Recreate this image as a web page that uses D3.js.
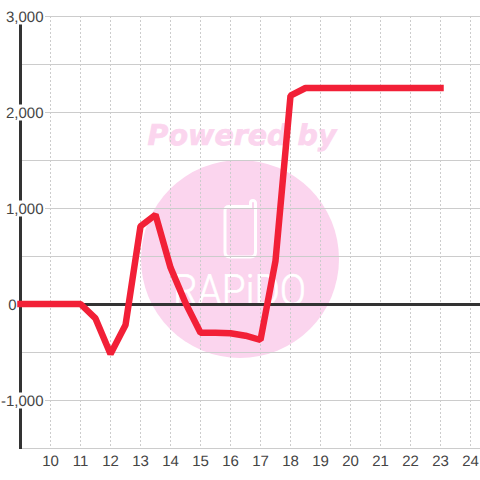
<!DOCTYPE html>
<html>
<head>
    <title>Chart</title>
    <script src="https://cdnjs.cloudflare.com/ajax/libs/d3/7.8.5/d3.min.js"></script>
    <style>
        html, body { margin: 0; padding: 0; background: #fff; }
        svg { display: block; }
        text { font-family: "Liberation Sans", sans-serif; text-rendering: geometricPrecision; }
    </style>
</head>
<body>
    <script>
    var hours = [9, 9.5, 10, 10.5, 11, 11.5, 12, 12.5, 13, 13.5, 14, 14.5, 15, 15.5, 16, 16.5, 17, 17.5, 18, 18.5, 19, 19.5, 20, 20.5, 21, 21.5, 22, 22.5, 23];
    var values = [0, 0, 0, 0, 0, -150, -520, -220, 810, 930, 380, 10, -300, -300, -305, -330, -375, 450, 2170, 2250, 2250, 2250, 2250, 2250, 2250, 2250, 2250, 2250, 2250];
    var xTicks = [10, 11, 12, 13, 14, 15, 16, 17, 18, 19, 20, 21, 22, 23, 24];
    var yLabelled = [3000, 2000, 1000, 0, -1000];
    var yGrid = [3000, 2500, 2000, 1500, 1000, 500, -500, -1000, -1500];

    var x = d3.scaleLinear().domain([9, 24]).range([20.5, 470.5]);
    var y = d3.scaleLinear().domain([3000, -1500]).range([16.5, 448.5]);
    // plain hyphen for negatives, d3 default is the long minus
    var fmt = d3.formatLocale({ decimal: ".", thousands: ",", grouping: [3], currency: ["$", ""], minus: "-" }).format(",");

    var svg = d3.select("body").append("svg")
        .attr("width", 480)
        .attr("height", 480);

    // watermark sits under everything
    var mark = svg.append("g").attr("class", "watermark");
    mark.append("circle")
        .attr("cx", 240).attr("cy", 259).attr("r", 99)
        .attr("fill", "#fbd5ee");
    mark.append("text")
        .attr("x", 242).attr("y", 145)
        .attr("text-anchor", "middle")
        .style("font-family", "DejaVu Sans")
        .style("font-weight", "bold")
        .style("font-style", "italic")
        .style("font-size", "28.5px")
        .attr("fill", "#fbd5ee")
        .attr("stroke", "#fbd5ee")
        .attr("stroke-width", 0.7)
        .text("Powered by");
    mark.append("path")
        .attr("d", "M229 206.5 H250.5 V203 a2.5 2.5 0 0 1 5 0 V252 q0 5 -5 5 H230 q-5 0 -5 -5 V210.5 q0 -4 4 -4 Z")
        .attr("fill", "none").attr("stroke", "#fff").attr("stroke-width", 3);
    mark.append("text")
        .attr("x", 173).attr("y", 305)
        .style("font-family", "Roboto")
        .style("font-weight", "300")
        .style("font-size", "43px")
        .attr("fill", "#fff")
        .attr("stroke", "#fff")
        .attr("stroke-width", 0.6)
        .attr("textLength", 133)
        .attr("lengthAdjust", "spacingAndGlyphs")
        .text("RAPiDO");

    // vertical dotted grid
    svg.append("g").selectAll("line")
        .data(xTicks)
        .enter().append("line")
        .attr("x1", function (d) { return x(d); })
        .attr("x2", function (d) { return x(d); })
        .attr("y1", 16)
        .attr("y2", 449)
        .attr("stroke", "#ccc")
        .attr("stroke-dasharray", "2,2");

    svg.append("g").selectAll("line")
        .data(yGrid)
        .enter().append("line")
        .attr("x1", 20)
        .attr("x2", 480)
        .attr("y1", function (d) { return y(d); })
        .attr("y2", function (d) { return y(d); })
        .attr("stroke", "#ccc");

    // axes
    svg.append("line")
        .attr("x1", 20).attr("x2", 480)
        .attr("y1", y(0)).attr("y2", y(0))
        .attr("stroke", "#333").attr("stroke-width", 3);
    svg.append("line")
        .attr("x1", x(9)).attr("x2", x(9))
        .attr("y1", 16).attr("y2", 449)
        .attr("stroke", "#333").attr("stroke-width", 3);

    // y labels have a white box behind them, the 0 sits left of the axis
    var yl = svg.append("g").selectAll("g")
        .data(yLabelled)
        .enter().append("g");
    yl.append("rect")
        .attr("x", function (d) { return d == 0 ? 7 : 0; })
        .attr("y", function (d) { return y(d) - 8; })
        .attr("width", function (d) { return d == 0 ? 10 : 45; })
        .attr("height", 16)
        .attr("fill", "#fff");
    yl.append("text")
        .attr("x", function (d) { return d == 0 ? 16.5 : 43.5; })
        .attr("y", function (d) { return y(d) + 5.5; })
        .attr("text-anchor", "end")
        .attr("fill", "#444")
        .style("font-size", "15px")
        .text(function (d) { return fmt(d); });

    svg.append("g").selectAll("text")
        .data(xTicks)
        .enter().append("text")
        .attr("x", function (d) { return x(d); })
        .attr("y", 466)
        .attr("text-anchor", "middle")
        .attr("fill", "#444")
        .style("font-size", "15px")
        .text(function (d) { return d; });

    var line = d3.line()
        .x(function (d, i) { return x(hours[i]); })
        .y(function (d) { return y(d) - 0.5; });

    svg.append("path")
        .datum(values)
        .attr("d", line)
        .attr("fill", "none")
        .attr("stroke", "#f22037")
        .attr("stroke-width", 6.5)
        .attr("stroke-linecap", "square")
        .attr("stroke-linejoin", "bevel");
    </script>
</body>
</html>
